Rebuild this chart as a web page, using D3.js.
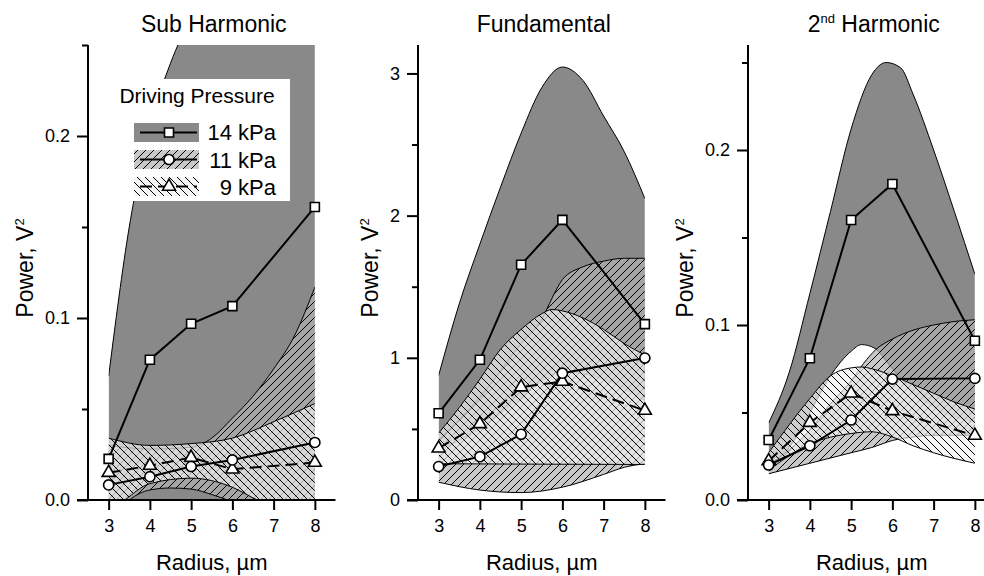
<!DOCTYPE html>
<html><head><meta charset="utf-8">
<script src="https://cdn.jsdelivr.net/npm/d3@7"></script>
<style>
body{margin:0;background:#fff}
svg{display:block}
text{font-family:"Liberation Sans",Arial,Helvetica,sans-serif;fill:#000}
</style>
</head><body>
<svg id="c" width="984" height="576"></svg>
<script>
// ---------- data ----------
const radius = [3, 4, 5, 6, 8];
const xTicks = [3, 4, 5, 6, 7, 8];
const pressureLabels = ["14 kPa", "11 kPa", "9 kPa"];

// Sub Harmonic (V^2)
const sub14 = [0.0226, 0.0771, 0.0968, 0.1065, 0.161];
const sub11 = [0.0083, 0.0128, 0.0184, 0.022, 0.0316];
const sub9  = [0.015, 0.0189, 0.0233, 0.0169, 0.0206];
const sub14Upper = [[3,0.068],[3.5,0.15],[4,0.205],[4.5,0.24],[5,0.265],[6,0.295],[7,0.31],[8,0.32]];
const sub14Lower = [[3,-0.05],[5.5,-0.06],[8,-0.05]];
const sub11Upper = [[3,0.03],[4,0.028],[5,0.029],[5.5,0.034],[6,0.045],[6.5,0.057],[7,0.072],[7.5,0.09],[8,0.117]];
const sub11Lower = [[3,-0.012],[3.5,0.0],[4,0.0055],[4.5,0.0066],[5,0.006],[5.5,0.003],[6,-0.001],[7,-0.01],[8,-0.02]];
const sub9Upper  = [[3,0.034],[4,0.030],[5,0.031],[6,0.034],[7,0.043],[8,0.053]];
const sub9Lower  = [[3,-0.008],[3.4,0.0],[4,0.009],[5,0.012],[6,0.007],[6.6,0.0],[7,-0.004],[8,-0.015]];

// Fundamental (V^2)
const fun14 = [0.61, 0.986, 1.655, 1.97, 1.237];
const fun11 = [0.235, 0.305, 0.462, 0.892, 0.998];
const fun9  = [0.364, 0.535, 0.794, 0.833, 0.629];
const fun14Upper = [[3,0.876],[3.5,1.38],[4,1.8],[4.5,2.2],[5,2.58],[5.5,2.9],[6,3.045],[6.5,2.95],[7,2.7],[7.5,2.45],[8,2.12]];
const fun14Lower = [[3,0.35],[4,0.5],[5,0.72],[6,0.9],[7,0.85],[8,0.7]];
const fun11Upper = [[3,0.42],[4,0.72],[5,1.1],[5.5,1.27],[5.75,1.42],[6,1.55],[6.5,1.64],[7,1.68],[7.5,1.7],[8,1.7]];
const fun11Lower = [[3,0.125],[4,0.07],[5,0.052],[6,0.09],[7,0.18],[7.5,0.23],[8,0.255]];
const fun9Upper  = [[3,0.47],[3.5,0.65],[4,0.85],[4.5,1.06],[5,1.2],[5.5,1.31],[5.75,1.34],[6,1.33],[6.5,1.28],[7,1.2],[7.5,1.1],[8,1.02]];
const fun9Lower  = [[3,0.255],[5.5,0.252],[8,0.25]];

// 2nd Harmonic (V^2)
const har14 = [0.0343, 0.081, 0.16, 0.1806, 0.091];
const har11 = [0.02, 0.031, 0.0457, 0.0691, 0.0695];
const har9  = [0.0223, 0.0442, 0.061, 0.0509, 0.0368];
const har14Upper = [[3,0.044],[3.5,0.073],[4,0.118],[4.5,0.165],[5,0.212],[5.5,0.243],[5.85,0.25],[6.2,0.247],[6.5,0.232],[7,0.2],[7.5,0.165],[8,0.129]];
const har14Lower = [[3,0.018],[3.5,0.03],[4,0.05],[4.5,0.071],[5,0.085],[5.25,0.0888],[5.55,0.087],[6,0.075],[6.5,0.062],[7,0.053],[8,0.045]];
const har11Upper = [[3,0.02],[4,0.04],[4.5,0.055],[5,0.068],[5.3,0.078],[5.6,0.086],[6,0.092],[6.5,0.097],[7,0.1],[7.5,0.102],[8,0.103]];
const har11Lower = [[3,0.015],[4,0.021],[5,0.027],[5.5,0.03],[6,0.034],[6.5,0.036],[7,0.037],[8,0.037]];
const har9Upper  = [[3,0.027],[3.5,0.043],[4,0.058],[4.5,0.071],[5,0.0755],[5.25,0.076],[5.5,0.075],[6,0.071],[6.5,0.066],[7,0.061],[7.5,0.056],[8,0.052]];
const har9Lower  = [[3,0.017],[4,0.032],[5,0.038],[5.5,0.039],[6,0.036],[6.5,0.031],[7,0.027],[8,0.021]];

// ---------- layout / style ----------
const FONT = '"Liberation Sans",Arial,Helvetica,sans-serif';
const yTop = 45, yBot = 500, plotW = 247.5;
const bandStyle = [
  {fill:"#898989", op:1, hatch:null},
  {fill:"#b0b0b0", op:0.7, hatch:"h11"},
  {fill:"#f0f0f0", op:0.68, hatch:"h9"}
];

const panels = [
  {title:"Sub Harmonic", sup:null, left:88, labelX:33, yMax:0.25,
   major:[0,0.1,0.2], minor:[0.05,0.15,0.25], fmt:d3.format(".1f"),
   series:[sub14, sub11, sub9],
   bands:[[sub14Upper,sub14Lower],[sub11Upper,sub11Lower],[sub9Upper,sub9Lower]]},
  {title:"Fundamental", sup:null, left:418, labelX:378, yMax:3.2,
   major:[0,1,2,3], minor:[0.5,1.5,2.5], fmt:d3.format("d"),
   series:[fun14, fun11, fun9],
   bands:[[fun14Upper,fun14Lower],[fun11Upper,fun11Lower],[fun9Upper,fun9Lower]]},
  {title:"2", sup:"nd", rest:" Harmonic", left:748, labelX:693, yMax:0.26,
   major:[0,0.1,0.2], minor:[0.05,0.15,0.25], fmt:d3.format(".1f"),
   series:[har14, har11, har9],
   bands:[[har14Upper,har14Lower],[har11Upper,har11Lower],[har9Upper,har9Lower]]}
];

const svg = d3.select("#c");
const defs = svg.append("defs");
function hatch(id, dir){
  const p = defs.append("pattern").attr("id", id)
    .attr("patternUnits","userSpaceOnUse").attr("width",8).attr("height",8);
  p.append("path")
    .attr("d", dir > 0 ? "M-2,2L2,-2M0,8L8,0M6,10L10,6" : "M-2,6L2,10M0,0L8,8M6,-2L10,2")
    .attr("stroke","#000").attr("stroke-width",1).attr("fill","none");
}
hatch("h11", 1);
hatch("h9", -1);

const symSquare = d3.symbol(d3.symbolSquare, 81);
const symCircle = d3.symbol(d3.symbolCircle, 80);
const symTri = d3.symbol(d3.symbolTriangle, 72);
const markers = [symSquare, symCircle, symTri];
const dashes = [null, null, "12,6"];

panels.forEach((p, i) => {
  const xs = d3.scaleLinear().domain([2.5, 8.5]).range([p.left, p.left + plotW]);
  const ys = d3.scaleLinear().domain([0, p.yMax]).range([yBot, yTop]);
  const g = svg.append("g");

  defs.append("clipPath").attr("id", "clip" + i).append("rect")
    .attr("x", xs(3)).attr("y", yTop).attr("width", xs(8) - xs(3)).attr("height", yBot - yTop);

  const bg = g.append("g").attr("clip-path", `url(#clip${i})`);
  const line = d3.line().x(d => xs(d[0])).y(d => ys(d[1])).curve(d3.curveMonotoneX);
  p.bands.forEach(([U, L], b) => {
    const st = bandStyle[b];
    const dA = line(U) + line(L.slice().reverse()).replace(/^M/, "L") + "Z";
    bg.append("path").attr("d", dA).attr("fill", st.fill).attr("fill-opacity", st.op);
    if (st.hatch) bg.append("path").attr("d", dA).attr("fill", `url(#${st.hatch})`);
    bg.append("path").attr("d", line(U)).attr("fill","none").attr("stroke","#000").attr("stroke-width",1);
    bg.append("path").attr("d", line(L)).attr("fill","none").attr("stroke","#000").attr("stroke-width",1);
  });

  // axes
  g.append("line").attr("x1", p.left).attr("x2", p.left).attr("y1", yTop).attr("y2", yBot + 1)
    .attr("stroke","#000").attr("stroke-width",2);
  g.append("line").attr("x1", p.left - 11).attr("x2", p.left + plotW).attr("y1", yBot).attr("y2", yBot)
    .attr("stroke","#000").attr("stroke-width",2);

  const ay = g.append("g").attr("transform", `translate(${p.left},0)`)
    .call(d3.axisLeft(ys).tickValues(p.major).tickSize(11).tickPadding(7).tickFormat(p.fmt));
  const ay2 = g.append("g").attr("transform", `translate(${p.left},0)`)
    .call(d3.axisLeft(ys).tickValues(p.minor).tickSize(6).tickFormat(""));
  const ax = g.append("g").attr("transform", `translate(0,${yBot})`)
    .call(d3.axisBottom(xs).tickValues(xTicks).tickSize(10).tickPadding(9).tickFormat(d3.format("d")));
  [ay, ay2, ax].forEach(a => {
    a.select(".domain").remove();
    a.selectAll(".tick line").attr("stroke","#000").attr("stroke-width",2);
    a.selectAll(".tick text").attr("font-family", FONT).attr("font-size", 18).attr("fill","#000");
  });

  // series
  [2, 1, 0].forEach(s => {
    const vals = p.series[s];
    const pts = radius.map((r, k) => [r, vals[k]]);
    g.append("path").attr("d", d3.line().x(d => xs(d[0])).y(d => ys(d[1]))(pts))
      .attr("fill","none").attr("stroke","#000").attr("stroke-width",2)
      .attr("stroke-dasharray", dashes[s]);
    g.selectAll(null).data(pts).enter().append("path")
      .attr("d", markers[s])
      .attr("transform", d => `translate(${xs(d[0])},${ys(d[1])})`)
      .attr("fill","#fff").attr("stroke","#000").attr("stroke-width",1.6);
  });

  // titles
  const t = g.append("text").attr("x", xs(5.5) + 2).attr("y", 32)
    .attr("text-anchor","middle").attr("font-size", 23);
  if (p.sup) {
    t.append("tspan").text(p.title);
    t.append("tspan").text(p.sup).attr("font-size", 13).attr("dy", -9);
    t.append("tspan").text(p.rest).attr("dy", 9);
  } else t.text(p.title);

  g.append("text").attr("x", xs(5.5)).attr("y", 570).attr("text-anchor","middle")
    .attr("font-size", 22).text("Radius, \u00b5m");

  const yl = g.append("text").attr("transform", `translate(${p.labelX},268) rotate(-90)`)
    .attr("text-anchor","middle").attr("font-size", 23);
  yl.append("tspan").text("Power, V");
  yl.append("tspan").text("2").attr("font-size", 13).attr("dy", -9);

  // legend in the first panel
  if (i === 0) {
    const lg = g.append("g");
    lg.append("rect").attr("x",116).attr("y",79).attr("width",174).attr("height",122).attr("fill","#fff");
    lg.append("text").attr("x",197).attr("y",103).attr("text-anchor","middle")
      .attr("font-size",21).text("Driving Pressure");
    pressureLabels.forEach((lab, s) => {
      const y0 = 123 + s * 27, cy = y0 + 9.5, st = bandStyle[s];
      lg.append("rect").attr("x",134).attr("y",y0).attr("width",65).attr("height",19)
        .attr("fill", st.fill).attr("fill-opacity", st.op);
      if (st.hatch) lg.append("rect").attr("x",134).attr("y",y0).attr("width",65).attr("height",19)
        .attr("fill", `url(#${st.hatch})`);
      lg.append("line").attr("x1",140).attr("x2",197).attr("y1",cy).attr("y2",cy)
        .attr("stroke","#000").attr("stroke-width",2).attr("stroke-dasharray", dashes[s]);
      lg.append("path").attr("d", markers[s]).attr("transform",`translate(169,${cy})`)
        .attr("fill","#fff").attr("stroke","#000").attr("stroke-width",1.6);
      lg.append("text").attr("x",276).attr("y", 140 + s * 27.5).attr("text-anchor","end")
        .attr("font-size",22).text(lab);
    });
  }
});
</script>
</body></html>
